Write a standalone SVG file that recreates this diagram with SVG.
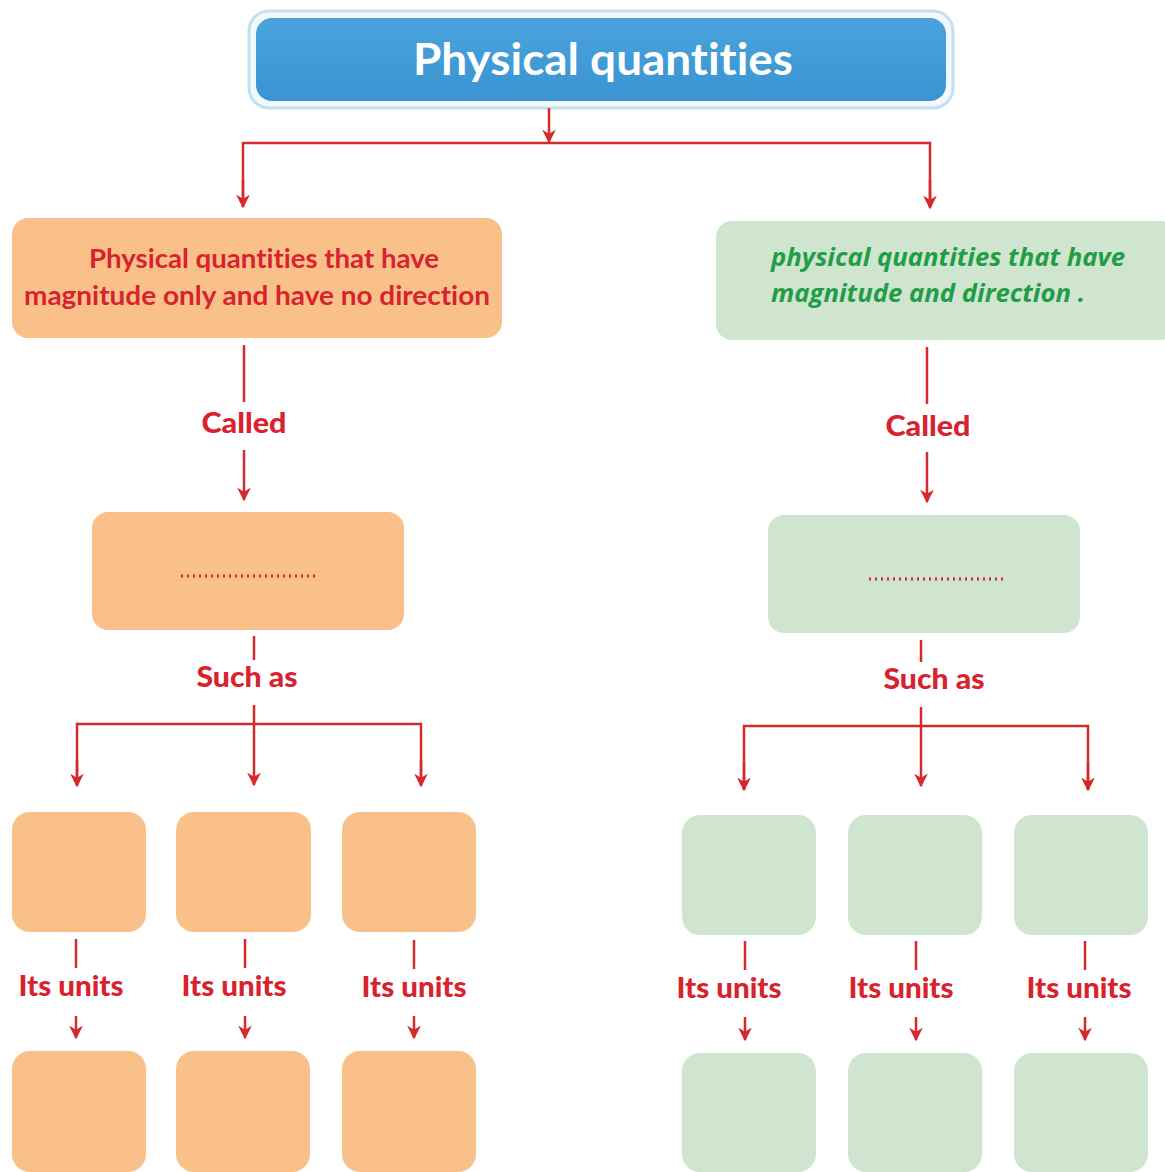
<svg xmlns="http://www.w3.org/2000/svg" width="1165" height="1172" viewBox="0 0 1165 1172">
<defs>
<style>
text{font-variant-ligatures:none}
.bg{fill:#ffffff}
.org{fill:#f9c189}
.grn{fill:#cfe5cf}
.lbl{font-family:"Lato","Liberation Sans",sans-serif;font-weight:900;fill:#d8232f;text-anchor:middle;font-size:28px}
.gtx{font-family:"Open Sans","Liberation Sans",sans-serif;font-weight:bold;font-style:italic;fill:#1f9e47;font-size:25px}
.otx{font-family:"Lato","Liberation Sans",sans-serif;font-weight:bold;fill:#d8232f;font-size:27px;text-anchor:middle}
.ln{stroke:#d42a2e;stroke-width:2.5;fill:none}
.dots{stroke:#d8232f;stroke-width:3;stroke-dasharray:2 4;fill:none}
</style>
<marker id="ah" viewBox="0 0 10 10" refX="9" refY="5" markerWidth="5.5" markerHeight="5.5" orient="auto" markerUnits="strokeWidth">
<path d="M0,0 L10,5 L0,10 L3,5 Z" fill="#d42a2e"/>
</marker>
<linearGradient id="bl" x1="0" y1="0" x2="0" y2="1">
<stop offset="0" stop-color="#4aa3db"/>
<stop offset="1" stop-color="#3a94d2"/>
</linearGradient>
</defs>
<rect class="bg" x="0" y="0" width="1165" height="1172"/>

<g id="title">
<rect x="249" y="11" width="704" height="97" rx="20" fill="#f2f8fc" stroke="#c3e0f3" stroke-width="3"/>
<rect x="256" y="18" width="690" height="83" rx="16" fill="url(#bl)"/>
<text x="603" y="75" font-family="Lato,'Liberation Sans',sans-serif" font-weight="bold" font-size="44" fill="#ffffff" text-anchor="middle" textLength="380" lengthAdjust="spacingAndGlyphs">Physical quantities</text>
</g>

<g id="scalar">
<rect class="org" x="12" y="218" width="490" height="120" rx="16"/>
<text class="otx" x="264" y="268" textLength="350" lengthAdjust="spacingAndGlyphs">Physical quantities that have</text>
<text class="otx" x="257" y="305" textLength="466" lengthAdjust="spacingAndGlyphs">magnitude only and have no direction</text>
</g>

<g id="vector">
<rect class="grn" x="716" y="221" width="460" height="119" rx="16"/>
<text class="gtx" x="771" y="266" textLength="354" lengthAdjust="spacingAndGlyphs">physical quantities that have</text>
<text class="gtx" x="771" y="302" textLength="314" lengthAdjust="spacingAndGlyphs">magnitude and direction .</text>
</g>

<g id="scalar-name">
<rect class="org" x="92" y="512" width="312" height="118" rx="16"/>
<line class="dots" x1="181" y1="576" x2="316" y2="576"/>
</g>

<g id="vector-name">
<rect class="grn" x="768" y="515" width="312" height="118" rx="16"/>
<line class="dots" x1="869" y1="579" x2="1006" y2="579"/>
</g>

<g id="s1"><rect class="org" x="12" y="812" width="134" height="120" rx="18"/></g>
<g id="s2"><rect class="org" x="176" y="812" width="135" height="120" rx="18"/></g>
<g id="s3"><rect class="org" x="342" y="812" width="134" height="120" rx="18"/></g>
<g id="v1"><rect class="grn" x="682" y="815" width="134" height="120" rx="18"/></g>
<g id="v2"><rect class="grn" x="848" y="815" width="134" height="120" rx="18"/></g>
<g id="v3"><rect class="grn" x="1014" y="815" width="134" height="120" rx="18"/></g>

<g id="su1"><rect class="org" x="12" y="1051" width="134" height="121" rx="18"/></g>
<g id="su2"><rect class="org" x="176" y="1051" width="134" height="121" rx="18"/></g>
<g id="su3"><rect class="org" x="342" y="1051" width="134" height="121" rx="18"/></g>
<g id="vu1"><rect class="grn" x="682" y="1053" width="134" height="119" rx="18"/></g>
<g id="vu2"><rect class="grn" x="848" y="1053" width="134" height="119" rx="18"/></g>
<g id="vu3"><rect class="grn" x="1014" y="1053" width="134" height="119" rx="18"/></g>

<g id="connectors">
<line class="ln" x1="549" y1="108" x2="549" y2="142" marker-end="url(#ah)"/>
<polyline class="ln" points="243,207 243,143 930,143 930,207"/>
<line class="ln" x1="243" y1="180" x2="243" y2="207" marker-end="url(#ah)"/>
<line class="ln" x1="930" y1="180" x2="930" y2="208" marker-end="url(#ah)"/>

<line class="ln" x1="244" y1="345" x2="244" y2="402"/>
<text class="lbl" x="244" y="433" textLength="85" lengthAdjust="spacingAndGlyphs">Called</text>
<line class="ln" x1="244" y1="450" x2="244" y2="500" marker-end="url(#ah)"/>
<line class="ln" x1="927" y1="347" x2="927" y2="404"/>
<text class="lbl" x="928" y="436" textLength="85" lengthAdjust="spacingAndGlyphs">Called</text>
<line class="ln" x1="927" y1="452" x2="927" y2="502" marker-end="url(#ah)"/>

<line class="ln" x1="254" y1="636" x2="254" y2="660"/>
<text class="lbl" x="247" y="687" textLength="101" lengthAdjust="spacingAndGlyphs">Such as</text>
<line class="ln" x1="254" y1="705" x2="254" y2="785" marker-end="url(#ah)"/>
<polyline class="ln" points="77,785 77,724 421,724 421,785"/>
<line class="ln" x1="77" y1="760" x2="77" y2="786" marker-end="url(#ah)"/>
<line class="ln" x1="421" y1="760" x2="421" y2="786" marker-end="url(#ah)"/>

<line class="ln" x1="921" y1="640" x2="921" y2="662"/>
<text class="lbl" x="934" y="689" textLength="101" lengthAdjust="spacingAndGlyphs">Such as</text>
<line class="ln" x1="921" y1="707" x2="921" y2="786" marker-end="url(#ah)"/>
<polyline class="ln" points="744,790 744,726 1088,726 1088,790"/>
<line class="ln" x1="744" y1="762" x2="744" y2="790" marker-end="url(#ah)"/>
<line class="ln" x1="1088" y1="762" x2="1088" y2="790" marker-end="url(#ah)"/>

<line class="ln" x1="76" y1="939" x2="76" y2="968"/>
<text class="lbl" x="71" y="996" textLength="105" lengthAdjust="spacingAndGlyphs">Its units</text>
<line class="ln" x1="76" y1="1016" x2="76" y2="1038" marker-end="url(#ah)"/>
<line class="ln" x1="245" y1="939" x2="245" y2="968"/>
<text class="lbl" x="234" y="996" textLength="105" lengthAdjust="spacingAndGlyphs">Its units</text>
<line class="ln" x1="245" y1="1016" x2="245" y2="1038" marker-end="url(#ah)"/>
<line class="ln" x1="414" y1="940" x2="414" y2="969"/>
<text class="lbl" x="414" y="997" textLength="105" lengthAdjust="spacingAndGlyphs">Its units</text>
<line class="ln" x1="414" y1="1016" x2="414" y2="1038" marker-end="url(#ah)"/>

<line class="ln" x1="745" y1="941" x2="745" y2="970"/>
<text class="lbl" x="729" y="998" textLength="105" lengthAdjust="spacingAndGlyphs">Its units</text>
<line class="ln" x1="745" y1="1017" x2="745" y2="1040" marker-end="url(#ah)"/>
<line class="ln" x1="916" y1="941" x2="916" y2="970"/>
<text class="lbl" x="901" y="998" textLength="105" lengthAdjust="spacingAndGlyphs">Its units</text>
<line class="ln" x1="916" y1="1017" x2="916" y2="1040" marker-end="url(#ah)"/>
<line class="ln" x1="1085" y1="941" x2="1085" y2="970"/>
<text class="lbl" x="1079" y="998" textLength="105" lengthAdjust="spacingAndGlyphs">Its units</text>
<line class="ln" x1="1085" y1="1017" x2="1085" y2="1040" marker-end="url(#ah)"/>
</g>
</svg>
